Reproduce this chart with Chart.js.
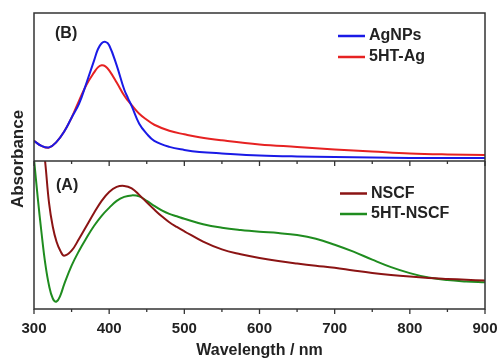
<!DOCTYPE html>
<html>
<head>
<meta charset="utf-8">
<script src="https://cdn.jsdelivr.net/npm/chart.js@4.4.0/dist/chart.umd.min.js"></script>
<style>
html, body { margin: 0; padding: 0; background: #fff; }
</style>
</head>
<body>
<canvas id="uvChart" width="500" height="358"></canvas>
<script>
// panel (B): silver nanoparticles
const wlB = [300, 310, 320, 330, 340, 350, 360, 370, 380, 385, 390, 395, 400, 410, 420, 425, 430, 440, 450, 460, 480, 500, 520, 550, 600, 650, 700, 750, 800, 850, 900];
const agnps = [0.20, 0.15, 0.135, 0.19, 0.29, 0.43, 0.57, 0.78, 1.00, 1.11, 1.17, 1.183, 1.15, 0.95, 0.71, 0.625, 0.545, 0.37, 0.27, 0.20, 0.14, 0.11, 0.09, 0.075, 0.055, 0.045, 0.04, 0.035, 0.03, 0.03, 0.03];
const ag5ht = [0.20, 0.15, 0.133, 0.19, 0.29, 0.43, 0.60, 0.76, 0.88, 0.93, 0.95, 0.94, 0.90, 0.78, 0.65, 0.60, 0.555, 0.47, 0.41, 0.36, 0.30, 0.265, 0.235, 0.205, 0.165, 0.14, 0.115, 0.095, 0.075, 0.065, 0.06];

// panel (A): NSCF films
const wlA = [300, 305, 310, 315, 320, 325, 330, 335, 340, 350, 360, 370, 380, 390, 400, 410, 420, 430, 440, 450, 460, 470, 480, 490, 500, 525, 550, 575, 600, 625, 650, 675, 700, 725, 750, 775, 800, 825, 850, 875, 900];
const nscf = [2.485, 2.135, 1.805, 1.465, 1.065, 0.825, 0.675, 0.585, 0.535, 0.585, 0.705, 0.835, 0.965, 1.085, 1.175, 1.225, 1.235, 1.21, 1.145, 1.07, 0.998, 0.93, 0.87, 0.823, 0.78, 0.676, 0.598, 0.55, 0.512, 0.481, 0.456, 0.434, 0.413, 0.386, 0.361, 0.341, 0.325, 0.312, 0.302, 0.293, 0.285];
const nscf5ht = [1.505, 1.115, 0.765, 0.455, 0.235, 0.105, 0.075, 0.135, 0.245, 0.435, 0.585, 0.715, 0.835, 0.935, 1.015, 1.085, 1.125, 1.14, 1.13, 1.085, 1.035, 0.99, 0.955, 0.93, 0.905, 0.85, 0.815, 0.792, 0.775, 0.762, 0.742, 0.705, 0.645, 0.575, 0.495, 0.42, 0.36, 0.315, 0.29, 0.277, 0.268];

const xTicks = [300, 400, 500, 600, 700, 800, 900];

const pts = (xs, ys) => xs.map((x, i) => ({ x: x, y: ys[i] }));
const FONT = '"Liberation Sans", Arial, sans-serif';

// clip each curve to its own panel, draw frame, ticks, labels, legends
const panelDeco = {
    id: 'panelDeco',
    beforeDatasetDraw(chart, args) {
        const ys = chart.scales[args.meta.yAxisID];
        const a = chart.chartArea;
        const ctx = chart.ctx;
        ctx.save();
        ctx.beginPath();
        ctx.rect(a.left, ys.top, a.right - a.left, ys.bottom - ys.top);
        ctx.clip();
    },
    afterDatasetDraw(chart) {
        chart.ctx.restore();
    },
    afterDraw(chart) {
        const ctx = chart.ctx;
        const a = chart.chartArea;
        const x = chart.scales.x;
        const div = chart.scales.yB.bottom;

        ctx.save();
        ctx.strokeStyle = '#333';
        ctx.lineWidth = 1.5;
        ctx.strokeRect(a.left, a.top, a.right - a.left, a.bottom - a.top);
        ctx.beginPath();
        ctx.moveTo(a.left, div);
        ctx.lineTo(a.right, div);
        ctx.stroke();

        // major / minor ticks on both panel bottoms
        ctx.lineWidth = 1.3;
        for (let v = 300; v <= 900; v += 50) {
            const px = x.getPixelForValue(v);
            const len = v % 100 === 0 ? 5 : 3;
            [div, a.bottom].forEach(yy => {
                ctx.beginPath();
                ctx.moveTo(px, yy);
                ctx.lineTo(px, yy + len);
                ctx.stroke();
            });
        }

        ctx.fillStyle = '#222';
        ctx.textBaseline = 'middle';
        ctx.font = 'bold 16px ' + FONT;
        ctx.textAlign = 'left';
        ctx.fillText('(B)', 55, 34);
        ctx.fillText('(A)', 56, 186);

        // legends
        const legendPos = { yB: [338, 36, 21], yA: [340, 193.5, 20.5] };
        const count = { yB: 0, yA: 0 };
        chart.data.datasets.forEach(ds => {
            const p = legendPos[ds.yAxisID];
            const yy = p[1] + count[ds.yAxisID] * p[2];
            count[ds.yAxisID]++;
            ctx.strokeStyle = ds.borderColor;
            ctx.lineWidth = 2.5;
            ctx.beginPath();
            ctx.moveTo(p[0], yy);
            ctx.lineTo(p[0] + 27, yy);
            ctx.stroke();
            ctx.fillStyle = '#222';
            ctx.fillText(ds.label, p[0] + 31, yy);
        });

        // shared y title
        ctx.translate(18.5, 159);
        ctx.rotate(-Math.PI / 2);
        ctx.textAlign = 'center';
        ctx.font = 'bold 17px ' + FONT;
        ctx.fillText('Absorbance', 0, 0);
        ctx.restore();
    }
};

const yPanel = (max) => ({
    type: 'linear',
    position: 'left',
    stack: 'panels',
    stackWeight: 1,
    min: 0,
    max: max,
    ticks: { display: false },
    grid: { display: false, drawTicks: false },
    border: { display: false },
    afterFit: s => { s.width = 0; }
});

const ctx = document.getElementById('uvChart').getContext('2d');
const uvChart = new Chart(ctx, {
    type: 'line',
    data: {
        datasets: [
            { label: 'AgNPs', data: pts(wlB, agnps), yAxisID: 'yB', borderColor: '#1a1ae6' },
            { label: '5HT-Ag', data: pts(wlB, ag5ht), yAxisID: 'yB', borderColor: '#e62222' },
            { label: 'NSCF', data: pts(wlA, nscf), yAxisID: 'yA', borderColor: '#8b1414' },
            { label: '5HT-NSCF', data: pts(wlA, nscf5ht), yAxisID: 'yA', borderColor: '#1f8c1f' }
        ]
    },
    options: {
        responsive: false,
        animation: false,
        layout: { padding: { left: 34, right: 15, top: 13, bottom: 0 } },
        elements: {
            point: { radius: 0 },
            line: { borderWidth: 2, tension: 0.4, capBezierPoints: false, fill: false }
        },
        scales: {
            x: {
                type: 'linear',
                min: 300,
                max: 900,
                afterBuildTicks: s => { s.ticks = xTicks.map(v => ({ value: v })); },
                afterFit: s => {
                    s.height = 49;
                    s.paddingLeft = 0;
                    s.paddingRight = 0;
                },
                ticks: { color: '#222', padding: 11, font: { family: FONT, size: 15, weight: 'bold' } },
                grid: { display: false, drawTicks: false, tickLength: 0 },
                border: { display: false },
                title: {
                    display: true,
                    text: 'Wavelength / nm',
                    color: '#222',
                    padding: { top: 0, bottom: -2 },
                    font: { family: FONT, size: 16, weight: 'bold' }
                }
            },
            yA: yPanel(1.485),
            yB: yPanel(1.47)
        },
        plugins: {
            legend: { display: false },
            tooltip: { enabled: false }
        }
    },
    plugins: [panelDeco]
});
</script>
</body>
</html>
